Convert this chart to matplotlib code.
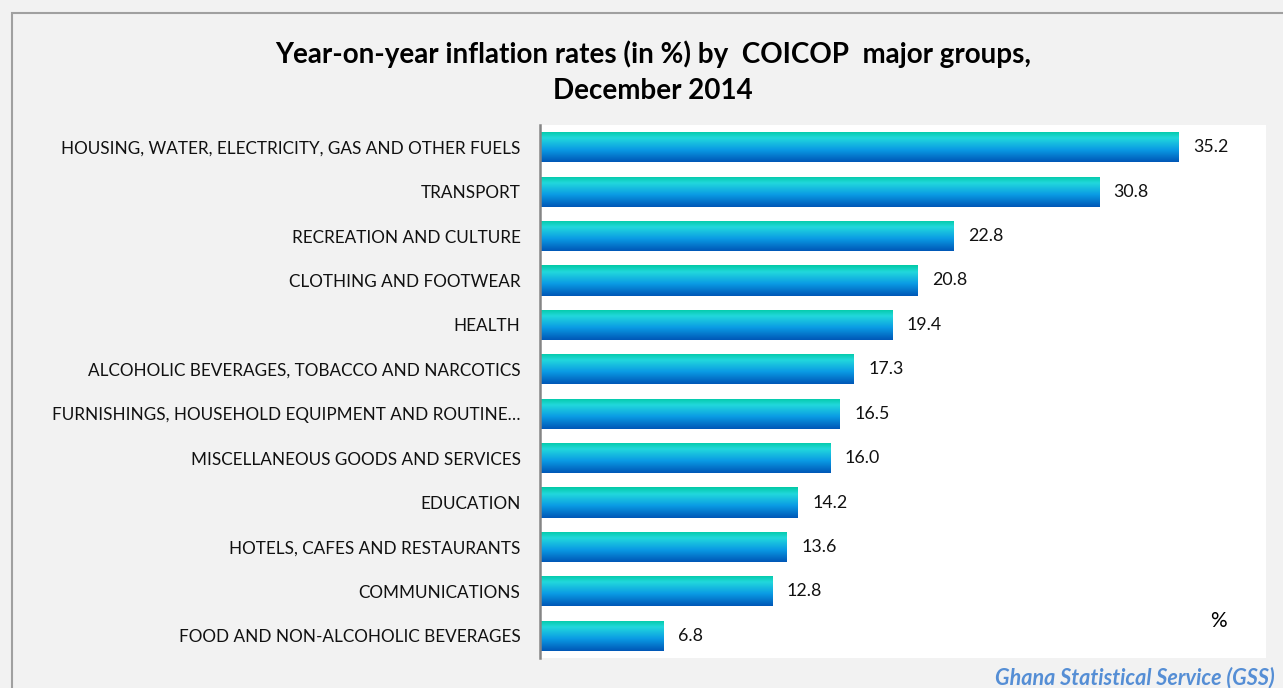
import matplotlib
matplotlib.use("Agg")
import matplotlib.pyplot as plt
import numpy as np
from matplotlib.colors import LinearSegmentedColormap
from matplotlib.patches import Rectangle

# Data, top to bottom as shown in the chart
groups = ["HOUSING, WATER, ELECTRICITY, GAS AND OTHER FUELS",
          "TRANSPORT",
          "RECREATION AND CULTURE",
          "CLOTHING AND FOOTWEAR",
          "HEALTH",
          "ALCOHOLIC BEVERAGES, TOBACCO AND NARCOTICS",
          "FURNISHINGS, HOUSEHOLD EQUIPMENT AND ROUTINE\u2026",
          "MISCELLANEOUS GOODS AND SERVICES",
          "EDUCATION",
          "HOTELS, CAFES AND RESTAURANTS",
          "COMMUNICATIONS",
          "FOOD AND NON-ALCOHOLIC BEVERAGES"]
rates = [35.2, 30.8, 22.8, 20.8, 19.4, 17.3, 16.5, 16.0, 14.2, 13.6, 12.8, 6.8]

W, H = 1283, 688
plt.rcParams["font.family"] = ["Lato", "DejaVu Sans"]

fig = plt.figure(figsize=(W / 100, H / 100), dpi=100)
fig.patch.set_facecolor("#f2f2f2")

#  Outer chart border (runs off the right and bottom edge)
fig.patches.append(Rectangle((12 / W, -0.05), 1.1, 1 - 13 / H + 0.05, transform=fig.transFigure,
                             fill=False, edgecolor="#a0a0a0", linewidth=1.5))

ax = fig.add_axes([540 / W, 1 - 658 / H, (1266 - 540) / W, (658 - 125) / H])
ax.set_facecolor("white")

ypos = np.arange(len(groups))
bars = ax.barh(ypos, rates, height=0.68, color="none", edgecolor="none")

#  Vertical gradient inside each bar: teal on top, blue at the bottom
grad = LinearSegmentedColormap.from_list("gss", [(0.0, "#00c9a4"), (0.22, "#22d8dc"),
                                                 (0.6, "#0a9be4"), (1.0, "#0056b6")])
g = np.linspace(0, 1, 256).reshape(-1, 1)
for b in bars:
    x0, y0, w, h = b.get_x(), b.get_y(), b.get_width(), b.get_height()
    im = ax.imshow(g, cmap=grad, aspect="auto", extent=(x0, x0 + w, y0 + h, y0),
                   interpolation="bicubic", zorder=2)
    im.set_clip_path(b)

ax.bar_label(bars, labels=[f"{v:.1f}" for v in rates], padding=10.5, fontsize=12.8, color="#111111")

ax.set_xlim(0, 40)
ax.set_ylim(len(groups) - 0.5, -0.5)
ax.set_yticks(ypos)
ax.set_yticklabels(groups, fontsize=12.3, color="#111111")
ax.tick_params(axis="y", length=0, pad=14)
ax.set_xticks([])
for s in ["top", "right", "bottom"]:
    ax.spines[s].set_visible(False)
ax.spines["left"].set_color("#858585")
ax.spines["left"].set_linewidth(1.8)

fig.text(653 / W, 1 - 72 / H, "Year-on-year inflation rates (in %) by  COICOP  major groups,\nDecember 2014",
         ha="center", va="center", fontsize=20, fontweight="bold", linespacing=1.5)

fig.text(1218 / W, 1 - 621 / H, "%", ha="center", va="center", fontsize=15)
fig.text(1275 / W, 1 - 684 / H, "Ghana Statistical Service (GSS)", ha="right", va="baseline",
         fontsize=15.5, fontweight="bold", style="italic", color="#558ed5")

fig.savefig("out.png", dpi=100, facecolor=fig.get_facecolor())
